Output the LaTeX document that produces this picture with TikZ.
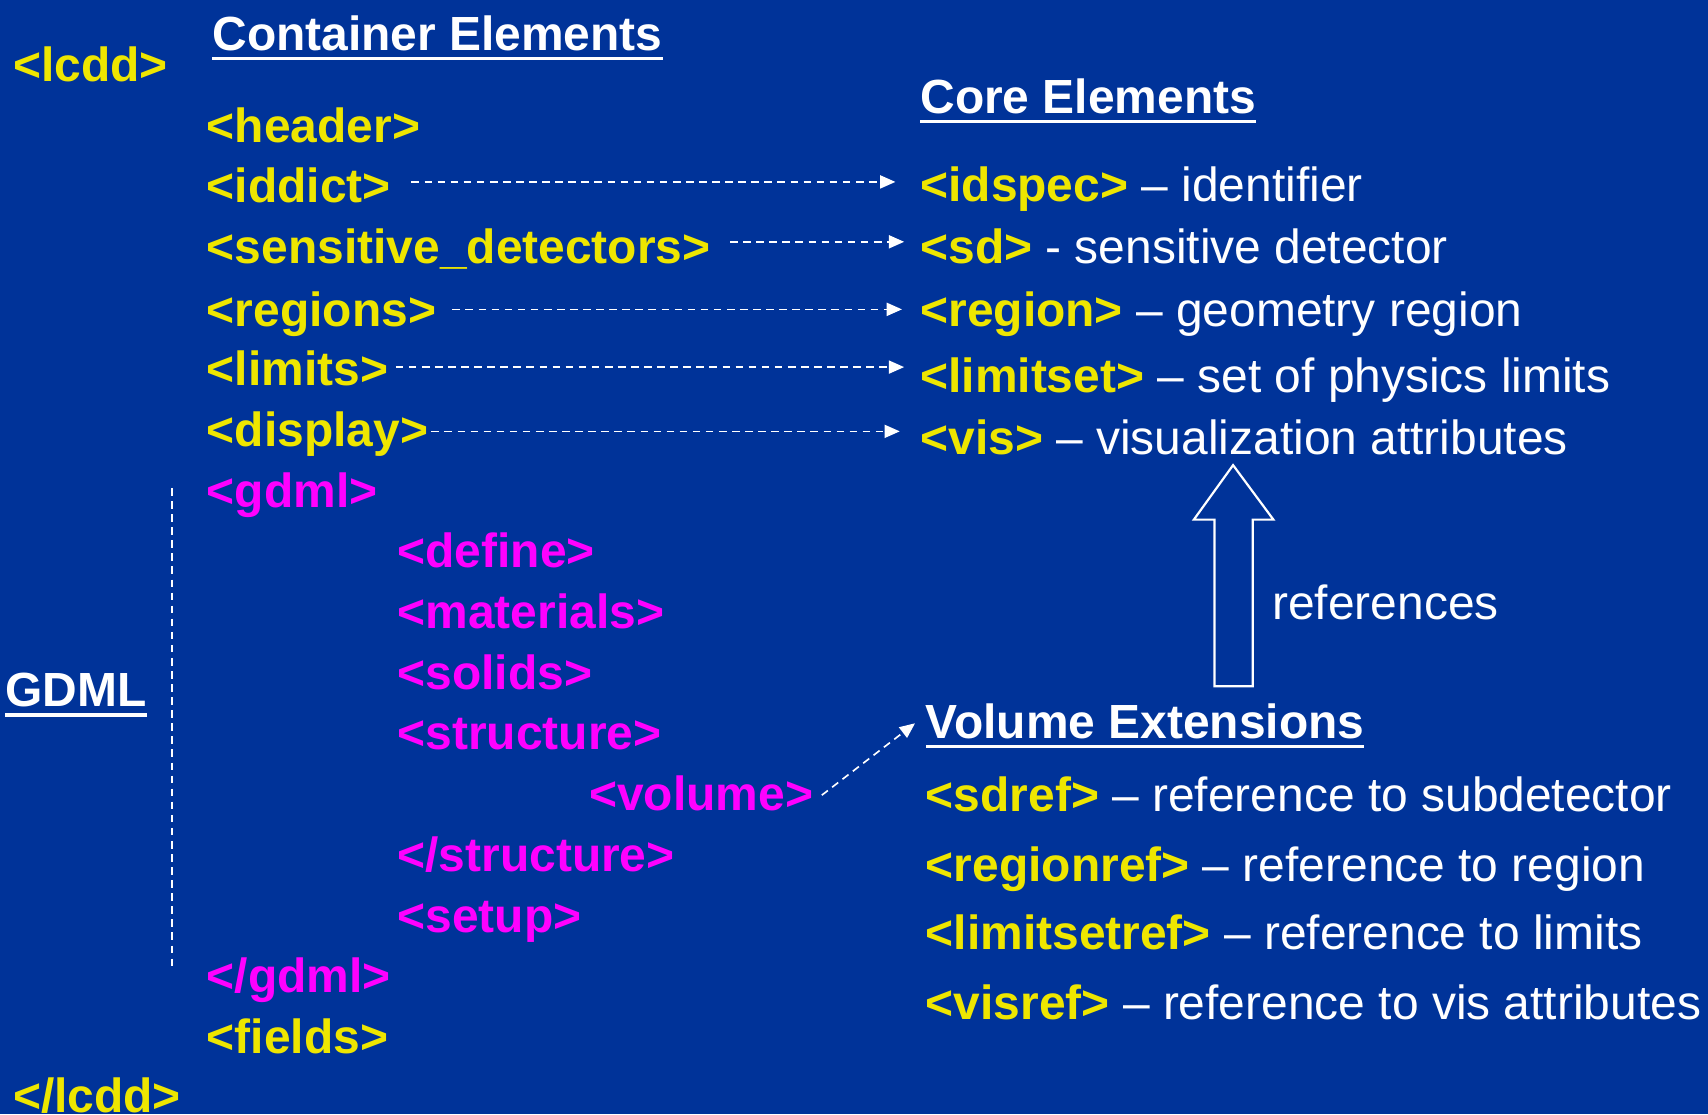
\documentclass[tikz,border=0pt]{standalone}
\usepackage{fontspec}
\setmainfont{Liberation Sans}
\usetikzlibrary{arrows.meta}
\definecolor{bg}{RGB}{0,51,153}
\definecolor{ylw}{RGB}{238,230,0}
\definecolor{mag}{RGB}{255,0,255}
\newcommand{\yb}[1]{\textcolor{ylw}{\bfseries #1}}
\begin{document}
\begin{tikzpicture}[x=1pt,y=-1pt,
  every node/.style={inner sep=0pt,outer sep=0pt,anchor=base west,font=\fontsize{44}{50}\selectfont},
  yel/.style={text=ylw,font=\fontsize{44}{50}\selectfont\bfseries},
  mg/.style={text=mag,font=\fontsize{44}{50}\selectfont\bfseries},
  wt/.style={text=white},
  ttl/.style={text=white,font=\fontsize{44}{50}\selectfont\bfseries},
  uline/.style={white,line width=3pt},
  dasharrow/.style={white,line width=1.5pt,dash pattern=on 7pt off 5pt,-{Triangle[length=14pt,width=12pt]}},
  dashline/.style={white,line width=1.5pt,dash pattern=on 7pt off 5pt},
  blockarrow/.style={white,line width=2pt,line join=miter}
]
\fill[bg] (0,0) rectangle (1568,1023);
\useasboundingbox (0,0) rectangle (1568,1023);

% left column
\node[yel] (lcdd) at (12,75) {<lcdd>};
\node[ttl] (ce) at (195,46) {Container Elements};
\draw[uline] ([yshift=-7.5pt]ce.base west) -- ([yshift=-7.5pt]ce.base east);
\node[yel] (header) at (190,131) {<header>};
\node[yel] (iddict) at (190,186) {<iddict>};
\node[yel] (sens) at (190,242) {<sensitive\_detectors>};
\node[yel] (regions) at (190,300) {<regions>};
\node[yel] (limits) at (190,354) {<limits>};
\node[yel] (display) at (190,410) {<display>};
\node[mg] (gdml) at (190,466) {<gdml>};
\node[mg] (define) at (365,521) {<define>};
\node[mg] (materials) at (365,577) {<materials>};
\node[mg] (solids) at (365,633) {<solids>};
\node[mg] (structure) at (365,688) {<structure>};
\node[mg] (volume) at (541,744) {<volume>};
\node[mg] (estructure) at (365,800) {</structure>};
\node[mg] (setup) at (365,856) {<setup>};
\node[mg] (egdml) at (190,911) {</gdml>};
\node[yel] (fields) at (190,967) {<fields>};
\node[yel] (elcdd) at (12,1021) {</lcdd>};
\node[ttl] (gdmlt) at (5,649) {GDML};
\draw[uline] ([yshift=-7.5pt]gdmlt.base west) -- ([yshift=-7.5pt]gdmlt.base east);
\coordinate (vtop) at (158,448);
\coordinate (vbot) at (158,890);
\draw[dashline] (vtop) -- (vbot);

% core elements
\node[ttl] (core) at (845,104) {Core Elements};
\draw[uline] ([yshift=-7.5pt]core.base west) -- ([yshift=-7.5pt]core.base east);
\node[wt] (idspec) at (845,185) {\yb{<idspec>} – identifier};
\node[wt] (sd) at (845,242) {\yb{<sd>} - sensitive detector};
\node[wt] (region) at (845,300) {\yb{<region>} – geometry region};
\node[wt] (limitset) at (845,360) {\yb{<limitset>} – set of physics limits};
\node[wt] (vis) at (845,417) {\yb{<vis>} – visualization attributes};

% arrows container -> core
\coordinate (a1) at ([xshift=19pt,yshift=19pt]iddict.base east);
\draw[dasharrow] (a1) -- ([xshift=-23pt]a1 -| idspec.base west);
\coordinate (a2) at ([xshift=18pt,yshift=20pt]sens.base east);
\draw[dasharrow] (a2) -- ([xshift=-15pt]a2 -| sd.base west);
\coordinate (a3) at ([xshift=15pt,yshift=16pt]regions.base east);
\draw[dasharrow] (a3) -- ([xshift=-17pt]a3 -| region.base west);
\coordinate (a4) at ([xshift=7pt,yshift=17pt]limits.base east);
\draw[dasharrow] (a4) -- ([xshift=-15pt]a4 -| limitset.base west);
\coordinate (a5) at ([xshift=3pt,yshift=14pt]display.base east);
\draw[dasharrow] (a5) -- ([xshift=-19pt]a5 -| vis.base west);

% block arrow
\draw[blockarrow] (1132,427) -- (1169,477) -- (1150,477) -- (1150,630) -- (1115,630) -- (1115,477) -- (1096,477) -- cycle;
\node[wt] (refs) at (1168,569) {references};

% volume extensions
\node[ttl] (volext) at (850,678) {Volume Extensions};
\draw[uline] ([yshift=-7.5pt]volext.base west) -- ([yshift=-7.5pt]volext.base east);
\node[wt] (sdref) at (850,745) {\yb{<sdref>} – reference to subdetector};
\node[wt] (regionref) at (850,809) {\yb{<regionref>} – reference to region};
\node[wt] (limitsetref) at (850,872) {\yb{<limitsetref>} – reference to limits};
\node[wt] (visref) at (850,936) {\yb{<visref>} – reference to vis attributes};

\draw[dasharrow] ([xshift=8pt,yshift=14pt]volume.base east) -- ([xshift=-10pt,yshift=14pt]volext.base west);
\end{tikzpicture}
\end{document}
